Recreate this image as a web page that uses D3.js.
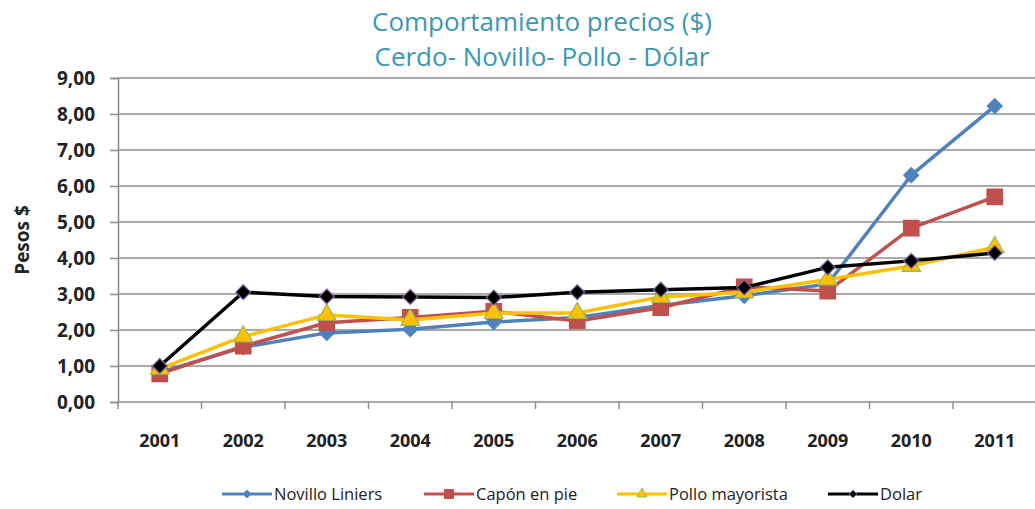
<!DOCTYPE html>
<html>
<head>
<meta charset="utf-8">
<script src="https://cdn.jsdelivr.net/npm/d3@7"></script>
<style>
  body { margin: 0; background: #fff; }
  svg text { font-family: "Open Sans", "Liberation Sans", sans-serif; }
</style>
</head>
<body>
<div id="chart"></div>
<script>
// data
const years = ['2001','2002','2003','2004','2005','2006','2007','2008','2009','2010','2011'];
const novillo = [0.82, 1.52, 1.92, 2.02, 2.22, 2.35, 2.68, 2.95, 3.28, 6.30, 8.22];
const capon   = [0.78, 1.55, 2.20, 2.35, 2.52, 2.25, 2.62, 3.20, 3.08, 4.83, 5.70];
const pollo   = [0.92, 1.82, 2.42, 2.28, 2.47, 2.47, 2.92, 3.05, 3.40, 3.78, 4.30];
const dolar   = [1.00, 3.05, 2.93, 2.92, 2.90, 3.05, 3.12, 3.18, 3.74, 3.92, 4.14];
const yTicks = [0,1,2,3,4,5,6,7,8,9];

// square diamond (rotated square), like the spreadsheet marker
const symbolRhomb = {
  draw(ctx, size) {
    const r = Math.sqrt(size / 2);
    ctx.moveTo(0, -r); ctx.lineTo(r, 0); ctx.lineTo(0, r); ctx.lineTo(-r, 0); ctx.closePath();
  }
};

const series = [
  {name: 'Novillo Liniers', values: novillo, color: '#4F81BD', symbol: symbolRhomb,      fill: '#4F81BD', stroke: '#4F81BD', size: 112, legSize: 30},
  {name: 'Capón en pie',    values: capon,   color: '#C0504D', symbol: d3.symbolSquare,  fill: '#C0504D', stroke: '#C0504D', size: 240, legSize: 80},
  {name: 'Pollo mayorista', values: pollo,   color: '#FFC000', symbol: d3.symbolTriangle,fill: '#FFC000', stroke: '#9BBB59', size: 150, legSize: 45},
  {name: 'Dolar',           values: dolar,   color: '#000000', symbol: symbolRhomb,      fill: '#000000', stroke: '#8064A2', size: 112, legSize: 30}
];

const width = 1035, height = 509;
const margin = {top: 78, bottom: 107, left: 118, right: 0};

const svg = d3.select('#chart').append('svg')
  .attr('width', width).attr('height', height);

// title
const title = svg.append('text')
  .attr('x', 542).attr('text-anchor', 'middle')
  .attr('fill', '#3B97B3').style('font-size', '26px');
title.append('tspan').attr('x', 542).attr('y', 31).text('Comportamiento precios ($)');
title.append('tspan').attr('x', 542).attr('y', 66).text('Cerdo- Novillo- Pollo - Dólar');

const scaleX = d3.scaleBand(years, [margin.left, margin.left + 11 * 83.5]);
const scaleY = d3.scaleLinear([0, 9], [height - margin.bottom, margin.top]);

// gridlines
svg.append('g')
  .selectAll('line').data(yTicks.slice(1)).join('line')
  .attr('x1', margin.left).attr('x2', width)
  .attr('y1', d => scaleY(d)).attr('y2', d => scaleY(d))
  .attr('stroke', '#8c8c8c').attr('stroke-width', 1.5);

// y axis
const axisY = svg.append('g')
  .attr('transform', `translate(${margin.left},0)`)
  .call(d3.axisLeft(scaleY).tickValues(yTicks).tickSize(8).tickPadding(15)
    .tickFormat(d => d3.format('.2f')(d).replace('.', ',')));
axisY.selectAll('line, path').attr('stroke', '#8c8c8c').attr('stroke-width', 1.5);
axisY.selectAll('text').style('font-size', '19px').style('font-weight', 'bold')
  .attr('fill', '#222');

// x axis
const axisX = svg.append('g')
  .attr('transform', `translate(0,${scaleY(0)})`)
  .call(d3.axisBottom(scaleX).tickSize(0).tickPadding(32));
axisX.select('path').attr('stroke', '#8c8c8c').attr('stroke-width', 1.5)
  .attr('d', `M${margin.left},0H${width}`);
axisX.selectAll('text').style('font-size', '18px').style('font-weight', 'bold')
  .attr('fill', '#222');
axisX.append('g').selectAll('line')
  .data(d3.range(years.length + 1).map(i => margin.left + i * scaleX.step()))
  .join('line')
  .attr('x1', d => d).attr('x2', d => d).attr('y1', 0).attr('y2', 7)
  .attr('stroke', '#8c8c8c').attr('stroke-width', 1.5);

// y label
svg.append('text')
  .attr('transform', `translate(29,${scaleY(4.5)})rotate(-90)`)
  .attr('text-anchor', 'middle')
  .style('font-size', '19px').style('font-weight', 'bold').attr('fill', '#222')
  .text('Pesos $');

// lines and markers
const cx = i => scaleX(years[i]) + scaleX.bandwidth() / 2;
const line = d3.line().x((d, i) => cx(i)).y(d => scaleY(d));

series.forEach(s => {
  const g = svg.append('g');
  g.append('path').datum(s.values)
    .attr('d', line).attr('fill', 'none')
    .attr('stroke', s.color).attr('stroke-width', 3.5)
    .attr('stroke-linejoin', 'round');
  g.selectAll('path.mark').data(s.values).join('path')
    .classed('mark', true)
    .attr('transform', (d, i) => `translate(${cx(i)},${scaleY(d)})`)
    .attr('d', d3.symbol(s.symbol, s.size))
    .attr('fill', s.fill).attr('stroke', s.stroke).attr('stroke-width', 1.2);
});

// legend
const legendX = [222, 424, 617, 828];
const legend = svg.append('g').attr('transform', 'translate(0,494)');
series.forEach((s, i) => {
  const g = legend.append('g').attr('transform', `translate(${legendX[i]},0)`);
  g.append('line').attr('x1', 0).attr('x2', 50).attr('y1', 0).attr('y2', 0)
    .attr('stroke', s.color).attr('stroke-width', 3);
  g.append('path').attr('transform', 'translate(25,0)')
    .attr('d', d3.symbol(s.symbol, s.legSize))
    .attr('fill', s.fill).attr('stroke', s.stroke).attr('stroke-width', 1);
  g.append('text').attr('x', 52).attr('y', 6)
    .style('font-size', '16.5px').attr('fill', '#222')
    .text(s.name);
});
</script>
</body>
</html>
